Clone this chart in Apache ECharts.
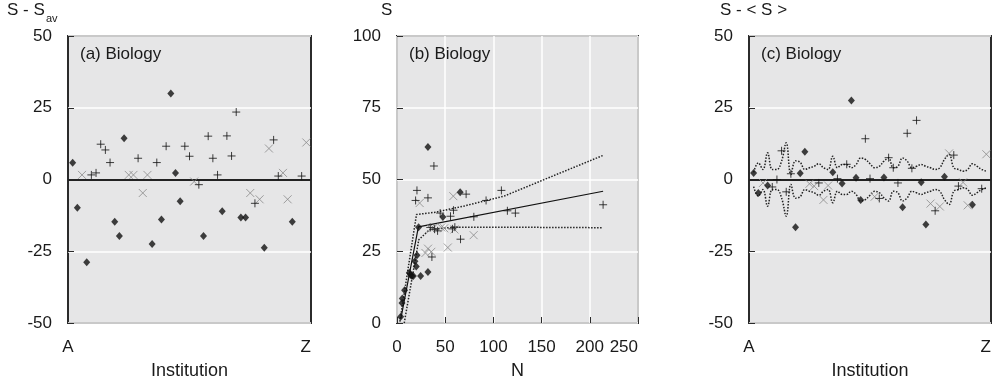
<!DOCTYPE html>
<html>
<head>
<meta charset="utf-8">
<script src="https://cdn.jsdelivr.net/npm/echarts@6/dist/echarts.min.js"></script>
<style>
html,body{margin:0;padding:0;background:#fff;}
#c{width:997px;height:385px;}
</style>
</head>
<body>
<div id="c"></div>
<script>
// ---- Data ----
// institutions 1..51 (ordered A..Z), type: D = diamond, P = plus, X = cross, '' = none
const institutionTicks = ['A', 'Z'];
const institutionType = ['D','D','X','D','P','P','P','P','P','D','D','D','X','X','P','X','X','D','P','D',
  'P','D','D','D','P','P','X','P','D','P','P','P','D','P','P','P','D','D','X','P',
  'X','D','X','P','P','X','X','D','','P','X'];
// panel (a): s - s_av
const sMinusSav = [5.8,-9.8,1.6,-28.8,1.6,2.3,12.3,10.3,5.9,-14.7,-19.7,14.4,1.6,1.6,7.4,-4.7,1.6,-22.5,5.9,-13.9,
  11.6,30.0,2.3,-7.6,11.6,8.1,-0.7,-1.8,-19.7,15.1,7.4,1.6,-11.1,15.2,8.2,23.5,-13.2,-13.2,-4.7,-8.3,
  -6.9,-23.8,10.8,13.8,1.2,2.3,-6.9,-14.7,null,1.2,12.9];
// panel (c): s - <s>
const sMinusMean = [2.3,-4.7,-1.2,-2.1,-2.6,0.0,10.0,-4.3,2.0,-16.6,2.2,9.7,-1.5,-2.3,-1.2,-7.1,-2.1,2.5,0.3,-1.4,
  5.3,27.5,0.6,-7.1,14.2,0.3,-6.0,-6.6,0.7,7.6,4.1,-1.2,-9.7,16.1,3.9,20.6,-1.0,-15.7,-8.4,-10.9,
  -9.4,1.0,9.1,8.5,-2.3,-1.0,-9.0,-8.8,null,-3.2,8.8];
// panel (c): half width of the dotted band
const bandHalfWidth = [2.5,5.8,3.5,9.3,3.5,3.5,6.4,12.8,1.7,6.5,6.0,3.5,4.1,4.6,5.5,4.1,3.5,8.1,4.1,5.2,
  5.2,4.1,5.2,7.5,7.0,5.5,4.1,4.6,6.4,7.5,4.1,4.6,7.5,6.4,4.1,4.6,5.2,4.6,4.1,3.5,
  4.1,7.0,8.7,4.1,3.5,2.9,3.5,5.5,4.6,3.5,2.9];
// panel (b): s vs N
const diamondN = [3.8,5.2,5.5,7.9,12.8,14.0,15.5,16.9,18.6,20.0,20.7,22.4,24.5,32.1,32.1,47.6,65.5];
const diamondS = [2.2,7.0,8.5,11.4,17.5,16.8,16.4,16.4,21.5,19.7,23.6,33.4,16.4,17.8,61.3,36.9,45.6];
const plusN = [20.7,19.3,32.1,38.3,44.8,55.5,58.6,71.7,79.7,92.4,108.3,114.5,122.8,213.8,36.2,42.1,65.9,34.5,39.0,57.5,60.0];
const plusS = [46.2,42.7,43.6,54.7,38.3,37.2,39.3,44.9,37.0,42.7,46.2,39.1,38.3,41.2,23.0,32.1,29.2,33.3,32.7,32.8,33.4];
const crossN = [23.5,58.4,32.2,29.5,35.6,52.7,79.5,34.9,45.9,59.6,38.0,49.0];
const crossS = [41.8,44.2,25.9,24.4,24.8,26.3,30.6,32.9,33.3,32.6,33.2,33.0];
const fitN = [4.0,22.2,213.8];
const fitS = [1.5,33.5,45.9];
const upperN = [3.0,20.2,40.0,70.0,111.0,168.0,213.8];
const upperS = [0.5,37.8,38.6,40.8,44.2,52.1,58.4];
const lowerN = [7.5,22.6,34.0,60.0,168.0,213.8];
const lowerS = [0.0,29.0,32.6,33.4,33.3,33.2];
const yTicksDiff = [-50, 50, 25];
const yTicksS = [0, 100, 25];
const xTicksN = [0, 250, 50];

// ---- Helpers ----
const FONT = 'Liberation Sans, Arial, sans-serif';
const TXT = '#1a1a1a';
function instPoints(values, t) {
  const out = [];
  values.forEach((v, i) => { if (institutionType[i] === t && v !== null) out.push([i + 1, v]); });
  return out;
}
function pairs(a, b) { return a.map((v, i) => [v, b[i]]); }

const plusPath = 'path://M0,5L10,5M5,0L5,10';
const crossPath = 'path://M0,0L10,10M10,0L0,10';
function markerSeries(x, y, data, kind) {
  const base = { type: 'scatter', xAxisIndex: x, yAxisIndex: y, data: data, silent: true, z: 5 };
  if (kind === 'D') return Object.assign(base, { symbol: 'diamond', symbolSize: [7, 8], itemStyle: { color: '#111' } });
  if (kind === 'P') return Object.assign(base, { symbol: plusPath, symbolSize: 8, itemStyle: { color: 'transparent', borderColor: '#111', borderWidth: 1 } });
  return Object.assign(base, { symbol: crossPath, symbolSize: 8, itemStyle: { color: 'transparent', borderColor: '#8a8a8a', borderWidth: 1 } });
}

const gridStyle = { show: true, backgroundColor: '#e6e6e7', borderColor: '#2b2b2b', borderWidth: 2, top: 36, height: 287 };
const lblStyle = { color: TXT, fontSize: 17, fontFamily: FONT };

function instXAxis(gi) {
  return {
    type: 'value', gridIndex: gi, min: 0, max: 52, interval: 52,
    axisLine: { show: false }, axisTick: { show: false }, splitLine: { show: false },
    axisLabel: Object.assign({ margin: 16, alignMaxLabel: 'right', formatter: v => (v === 0 ? institutionTicks[0] : institutionTicks[1]) }, lblStyle),
    name: 'Institution', nameLocation: 'middle', nameGap: 39,
    nameTextStyle: { color: TXT, fontSize: 18, fontFamily: FONT }
  };
}
function diffYAxis(gi) {
  return {
    type: 'value', gridIndex: gi, min: yTicksDiff[0], max: yTicksDiff[1], interval: yTicksDiff[2],
    axisLine: { show: false },
    axisTick: { show: true, inside: true, length: 6, lineStyle: { color: '#2b2b2b', width: 1 } },
    splitLine: { show: true, lineStyle: { color: '#ffffff', width: 1.5 } },
    axisLabel: Object.assign({ margin: 16 }, lblStyle)
  };
}
function zeroLine() {
  return { silent: true, symbol: 'none', label: { show: false },
    lineStyle: { color: '#222', width: 2, type: 'solid' }, data: [{ yAxis: 0 }] };
}
function bandSeries(sign) {
  return { type: 'line', xAxisIndex: 2, yAxisIndex: 2, silent: true, smooth: 0.4, showSymbol: false, symbol: 'none',
    lineStyle: { color: '#222', width: 1.5, type: 'dotted' }, z: 3,
    data: bandHalfWidth.map((v, i) => [i + 1, sign * v]) };
}

const option = {
  animation: false,
  textStyle: { fontFamily: FONT },
  grid: [
    Object.assign({ left: 68, width: 243 }, gridStyle),
    Object.assign({ left: 397, width: 241 }, gridStyle),
    Object.assign({ left: 749, width: 242 }, gridStyle)
  ],
  xAxis: [
    instXAxis(0),
    {
      type: 'value', gridIndex: 1, min: xTicksN[0], max: xTicksN[1], interval: xTicksN[2],
      axisLine: { show: false },
      axisTick: { show: true, inside: true, length: 6, lineStyle: { color: '#2b2b2b', width: 1 } },
      splitLine: { show: true, lineStyle: { color: '#ffffff', width: 1.5 } },
      axisLabel: Object.assign({ margin: 16, alignMaxLabel: 'right' }, lblStyle),
      name: 'N', nameLocation: 'middle', nameGap: 39,
      nameTextStyle: { color: TXT, fontSize: 18, fontFamily: FONT }
    },
    instXAxis(2)
  ],
  yAxis: [
    diffYAxis(0),
    {
      type: 'value', gridIndex: 1, min: yTicksS[0], max: yTicksS[1], interval: yTicksS[2],
      axisLine: { show: false },
      axisTick: { show: true, inside: true, length: 6, lineStyle: { color: '#2b2b2b', width: 1 } },
      splitLine: { show: true, lineStyle: { color: '#ffffff', width: 1.5 } },
      axisLabel: Object.assign({ margin: 16 }, lblStyle)
    },
    diffYAxis(2)
  ],
  graphic: [
    { type: 'text', left: 7, top: 2, style: { text: 'S - S', fontSize: 17, fontFamily: FONT, fill: TXT } },
    { type: 'text', left: 46, top: 13, style: { text: 'av', fontSize: 11, fontFamily: FONT, fill: TXT } },
    { type: 'text', left: 381, top: 2, style: { text: 'S', fontSize: 17, fontFamily: FONT, fill: TXT } },
    { type: 'text', left: 720, top: 2, style: { text: 'S - < S >', fontSize: 17, fontFamily: FONT, fill: TXT } },
    { type: 'text', left: 80, top: 46, z: 10, style: { text: '(a) Biology', fontSize: 17, fontFamily: FONT, fill: TXT } },
    { type: 'text', left: 409, top: 46, z: 10, style: { text: '(b) Biology', fontSize: 17, fontFamily: FONT, fill: TXT } },
    { type: 'text', left: 761, top: 46, z: 10, style: { text: '(c) Biology', fontSize: 17, fontFamily: FONT, fill: TXT } }
  ],
  series: [
    // panel (a)
    Object.assign(markerSeries(0, 0, instPoints(sMinusSav, 'X'), 'X'), { markLine: zeroLine() }),
    markerSeries(0, 0, instPoints(sMinusSav, 'P'), 'P'),
    markerSeries(0, 0, instPoints(sMinusSav, 'D'), 'D'),
    // panel (b)
    { type: 'line', xAxisIndex: 1, yAxisIndex: 1, silent: true, showSymbol: false, symbol: 'none',
      lineStyle: { color: '#222', width: 1.5, type: 'dotted' }, data: pairs(upperN, upperS), z: 3 },
    { type: 'line', xAxisIndex: 1, yAxisIndex: 1, silent: true, showSymbol: false, symbol: 'none',
      lineStyle: { color: '#222', width: 1.5, type: 'dotted' }, data: pairs(lowerN, lowerS), z: 3 },
    { type: 'line', xAxisIndex: 1, yAxisIndex: 1, silent: true, showSymbol: false, symbol: 'none',
      lineStyle: { color: '#111', width: 1.2, type: 'solid' }, data: pairs(fitN, fitS), z: 3 },
    markerSeries(1, 1, pairs(crossN, crossS), 'X'),
    markerSeries(1, 1, pairs(plusN, plusS), 'P'),
    markerSeries(1, 1, pairs(diamondN, diamondS), 'D'),
    // panel (c)
    bandSeries(1),
    bandSeries(-1),
    Object.assign(markerSeries(2, 2, instPoints(sMinusMean, 'X'), 'X'), { markLine: zeroLine() }),
    markerSeries(2, 2, instPoints(sMinusMean, 'P'), 'P'),
    markerSeries(2, 2, instPoints(sMinusMean, 'D'), 'D')
  ]
};
const chart = echarts.init(document.getElementById('c'), null, { renderer: 'canvas' });
chart.setOption(option);
</script>
</body>
</html>
